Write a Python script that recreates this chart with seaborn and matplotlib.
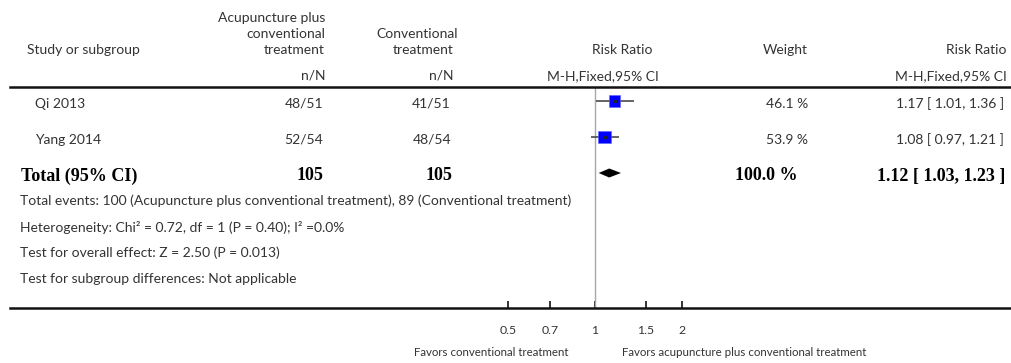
import numpy as np
import pandas as pd
import seaborn as sns
import matplotlib.pyplot as plt
from matplotlib.transforms import blended_transform_factory
from matplotlib.ticker import NullLocator

# Study data
studies = ["Qi 2013", "Yang 2014"]
acu_events = [48, 52]
acu_total = [51, 54]
conv_events = [41, 48]
conv_total = [51, 54]
rr = [1.17, 1.08]
ci_low = [1.01, 0.97]
ci_high = [1.36, 1.21]
weight = [46.1, 53.9]

# Pooled result
total_n = [105, 105]
total_rr = 1.12
total_low = 1.03
total_high = 1.23
total_weight = 100.0

ticks = [0.5, 0.7, 1, 1.5, 2]
tick_labels = ["0.5", "0.7", "1", "1.5", "2"]

notes = [
    "Total events: 100 (Acupuncture plus conventional treatment), 89 (Conventional treatment)",
    "Heterogeneity: Chi\u00b2 = 0.72, df = 1 (P = 0.40); I\u00b2 =0.0%",
    "Test for overall effect: Z = 2.50 (P = 0.013)",
    "Test for subgroup differences: Not applicable",
]

df = pd.DataFrame({"study": studies, "rr": rr, "low": ci_low,
                   "high": ci_high, "weight": weight})
df["row"] = np.arange(len(df))

sns.set_theme(style="white")
plt.rcParams["font.family"] = ["Lato", "DejaVu Sans"]

W, H = 1011, 363
fig = plt.figure(figsize=(W / 100, H / 100), dpi=100)
fig.patch.set_facecolor("white")

# forest panel: top spine = header rule, bottom spine = scale axis
ax = fig.add_axes([10 / W, (H - 308) / H, 1001 / W, 221 / H])
ax.set_xscale("log")
ax.set_xlim(np.exp((10 - 595) / 125.6), np.exp((1011 - 595) / 125.6))
ax.set_ylim((308 - 101) / 36, -14 / 36)

ax.axvline(1, color="#a8a8a8", lw=1, zorder=1)
ax.hlines(df["row"], df["low"], df["high"], color="#4a4a4a", lw=1.2, zorder=2)
sns.scatterplot(data=df, x="rr", y="row", size="weight", sizes=(0, 148),
                size_norm=(0, 100), marker="s", color="#0000ff",
                edgecolor="#6060ff", linewidth=0.4, legend=False, ax=ax, zorder=3)
ax.plot(df["rr"], df["row"], "o", color="#222222", ms=1.6, zorder=4)

yt = len(studies)
h = 0.125
ax.fill([total_low, total_rr, total_high, total_rr], [yt, yt - h, yt, yt + h],
        color="black", lw=0, zorder=3)

for side in ["left", "right"]:
    ax.spines[side].set_visible(False)
for side in ["top", "bottom"]:
    ax.spines[side].set_visible(True)
    ax.spines[side].set_linewidth(1.8)
    ax.spines[side].set_color("#111111")

ax.set_xticks(ticks)
ax.set_xticklabels(tick_labels)
ax.xaxis.set_minor_locator(NullLocator())
ax.set_yticks([])
ax.tick_params(axis="x", bottom=True, direction="in", length=5, width=1.2,
               color="#111111", pad=12, labelsize=8.8, labelcolor="#333333")
ax.set_xlabel("")
ax.set_ylabel("")
ax.grid(False)

txt = "#333333"
fs = 10


def fx(x):
    return x / W


def fy(y):
    return 1 - y / H


# column headers
fig.text(fx(27), fy(50), "Study or subgroup", ha="left", va="center", fontsize=fs, color=txt)
for y, s in zip([18, 34, 50], ["Acupuncture plus", "conventional", "treatment"]):
    fig.text(fx(325), fy(y), s, ha="right", va="center", fontsize=fs, color=txt)
fig.text(fx(458), fy(34), "Conventional", ha="right", va="center", fontsize=fs, color=txt)
fig.text(fx(454), fy(50), "treatment", ha="right", va="center", fontsize=fs, color=txt)
fig.text(fx(325), fy(76), "n/N", ha="right", va="center", fontsize=fs, color=txt)
fig.text(fx(454), fy(76), "n/N", ha="right", va="center", fontsize=fs, color=txt)
fig.text(fx(622), fy(50), "Risk Ratio", ha="center", va="center", fontsize=fs, color=txt)
fig.text(fx(603), fy(76), "M-H,Fixed,95% CI", ha="center", va="center", fontsize=fs, color=txt)
fig.text(fx(785), fy(50), "Weight", ha="center", va="center", fontsize=fs, color=txt)
fig.text(fx(1007), fy(50), "Risk Ratio", ha="right", va="center", fontsize=fs, color=txt)
fig.text(fx(1007), fy(76), "M-H,Fixed,95% CI", ha="right", va="center", fontsize=fs, color=txt)

# study rows
tr = blended_transform_factory(fig.transFigure, ax.transData)
off = 3 / 36
for i, row in df.iterrows():
    y = row["row"] + off
    fig.text(fx(35), y, row["study"], transform=tr, ha="left", va="center", fontsize=fs, color=txt)
    fig.text(fx(323), y, f"{acu_events[i]}/{acu_total[i]}", transform=tr,
             ha="right", va="center", fontsize=fs, color=txt)
    fig.text(fx(451), y, f"{conv_events[i]}/{conv_total[i]}", transform=tr,
             ha="right", va="center", fontsize=fs, color=txt)
    fig.text(fx(808), y, f"{row['weight']:.1f} %", transform=tr,
             ha="right", va="center", fontsize=fs, color=txt)
    fig.text(fx(1004), y, f"{row['rr']:.2f} [ {row['low']:.2f}, {row['high']:.2f} ]",
             transform=tr, ha="right", va="center", fontsize=fs, color=txt)

# total row
bold = dict(transform=tr, va="center", fontsize=13, fontweight="bold",
            family="Liberation Serif", color="black")
y = yt + off
fig.text(fx(21), y, "Total (95% CI)", ha="left", **bold)
fig.text(fx(323), y, str(total_n[0]), ha="right", **bold)
fig.text(fx(452), y, str(total_n[1]), ha="right", **bold)
fig.text(fx(798), y, f"{total_weight:.1f} %", ha="right", **bold)
fig.text(fx(1005), y, f"{total_rr:.2f} [ {total_low:.2f}, {total_high:.2f} ]", ha="right", **bold)

# summary notes
for y, s in zip([201, 227, 253, 279], notes):
    fig.text(fx(20), fy(y), s, ha="left", va="center", fontsize=fs, color=txt)

# favours labels
fig.text(fx(569), fy(352), "Favors conventional treatment", ha="right", va="center",
         fontsize=8.3, color=txt)
fig.text(fx(622), fy(352), "Favors acupuncture plus conventional treatment", ha="left",
         va="center", fontsize=8.3, color=txt)

fig.savefig("out.png", dpi=100, facecolor="white")
